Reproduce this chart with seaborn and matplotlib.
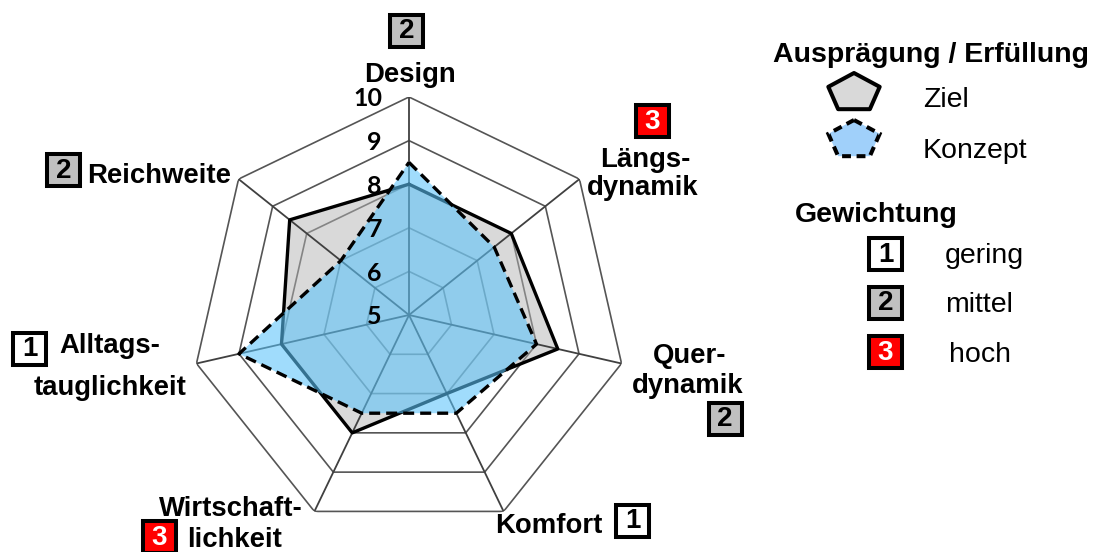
import numpy as np
import matplotlib
matplotlib.use("Agg")
import matplotlib.pyplot as plt
from matplotlib.patches import Polygon, Rectangle
import seaborn as sns

# ---- data -------------------------------------------------------------
criteria = ["Design", "Längsdynamik", "Querdynamik", "Komfort",
            "Wirtschaftlichkeit", "Alltagstauglichkeit", "Reichweite"]
axis_labels = ["Design", "Längs-\ndynamik", "Quer-\ndynamik", "Komfort",
               "Wirtschaft-\nlichkeit", "Alltags-\ntauglichkeit", "Reichweite"]
ziel = [8.0, 8.0, 8.5, 7.0, 8.0, 8.0, 8.5]
konzept = [8.5, 7.5, 8.0, 7.5, 7.5, 9.0, 7.0]
weights = [2, 3, 2, 1, 3, 1, 2]
ring_levels = [6, 7, 8, 9, 10]
tick_values = [5, 6, 7, 8, 9, 10]
series_names = ["Ziel", "Konzept"]
weight_names = ["gering", "mittel", "hoch"]
r_min, r_max = 5, 10

# ---- style ------------------------------------------------------------
sns.set_style("white")
plt.rcParams["font.family"] = ["Liberation Sans", "DejaVu Sans"]
plt.rcParams["text.color"] = "black"

W, H = 1105, 552
fig = plt.figure(figsize=(W / 100, H / 100), dpi=100)

# overlay in pixel units for labels and legend
ov = fig.add_axes([0, 0, 1, 1])
ov.set_xlim(0, W)
ov.set_ylim(H, 0)
ov.axis("off")

# radar axes: centre (409, 315), radius 218 px
cx, cy, R = 409, 315, 218
ax = fig.add_axes([(cx - R) / W, (H - cy - R) / H, 2 * R / W, 2 * R / H],
                  projection="polar")
ax.set_theta_offset(np.pi / 2)
ax.set_theta_direction(-1)
ax.patch.set_alpha(0)

n = len(criteria)
theta = np.arange(n) * 2 * np.pi / n
theta_c = np.append(theta, 2 * np.pi)

def closed(vals):
    return np.append(vals, vals[0])

grid_col = "#555555"
# heptagonal rings
for lv in ring_levels:
    ax.plot(theta_c, [lv] * (n + 1), color=grid_col, lw=1.2, zorder=1)
# spokes
for t in theta:
    ax.plot([t, t], [r_min, r_max], color="#404040", lw=1.3, zorder=2.5)

# Ziel
ax.fill(theta_c, closed(ziel), color="#b4b4b4", alpha=0.5, lw=0, zorder=2)
sns.lineplot(x=theta_c, y=closed(ziel), sort=False, estimator=None, ax=ax,
             color="black", lw=2.4, zorder=3)
# Konzept
ax.fill(theta_c, closed(konzept), color="#5cc4fa", alpha=0.58, lw=0, zorder=4)
sns.lineplot(x=theta_c, y=closed(konzept), sort=False, estimator=None, ax=ax,
             color="black", lw=2.4, linestyle=(0, (3.3, 1.8)), zorder=5)

ax.set_ylim(r_min, r_max)
ax.set_xticks([])
ax.set_yticks([])
ax.set_xlabel("")
ax.set_ylabel("")
ax.grid(False)
ax.spines["polar"].set_visible(False)

# radial tick labels along the top spoke
for v in tick_values:
    ax.annotate(str(v), xy=(0, v), xytext=(-27, -2), textcoords="offset pixels",
                ha="right", va="center", fontsize=18, fontweight="bold",
                family=["Lato", "DejaVu Sans"], color="black", zorder=6)

# ---- weighting boxes ----------------------------------------------------
box_fc = {1: "white", 2: "#c0c0c0", 3: "#ff0000"}
box_tc = {1: "black", 2: "black", 3: "white"}

def weight_box(x, y, level):
    ov.add_patch(Rectangle((x - 16.5, y - 16), 33, 32, fc=box_fc[level],
                           ec="black", lw=2.9, zorder=3))
    ov.text(x, y + 1, str(level), ha="center", va="center", fontsize=20,
            fontweight="bold", color=box_tc[level], zorder=4)

# label placement: (line centres x, line baselines y, box centre)
label_layout = [
    ([409.5], [82], (406.5, 30.5)),
    ([645, 643], [167, 195], (652, 121)),
    ([689.5, 688], [363, 393], (725, 418.5)),
    ([549], [533], (632.5, 520.5)),
    ([231, 235], [516, 547], (159.5, 537)),
    ([110, 110], [353, 395], (29.5, 348.5)),
    ([159], [183], (63.5, 170)),
]
for text, w, (xs, ys, bpos) in zip(axis_labels, weights, label_layout):
    for line, x, y in zip(text.split("\n"), xs, ys):
        ov.text(x, y, line, ha="center", va="baseline", fontsize=19.8,
                fontweight="bold")
    weight_box(bpos[0], bpos[1], w)

# ---- legend -----------------------------------------------------------------
ov.text(773, 62, "Ausprägung / Erfüllung", ha="left", va="baseline",
        fontsize=20.5, fontweight="bold")

def pentagon(x0, y0, rx=27, ry=20):
    ang = np.deg2rad(90 - 72 * np.arange(5))
    return np.column_stack([x0 + rx * np.cos(ang), y0 - ry * np.sin(ang)])

ov.add_patch(Polygon(pentagon(854, 93), closed=True, fc="#d9d9d9",
                     ec="black", lw=2.9, joinstyle="round"))
ov.add_patch(Polygon(pentagon(854, 140), closed=True, fc="#a0d0fa",
                     ec="black", lw=2.9, linestyle=(0, (2.2, 1.4))))
ov.text(923, 107, series_names[0], ha="left", va="baseline", fontsize=20.5)
ov.text(923, 158, series_names[1], ha="left", va="baseline", fontsize=20.5)

ov.text(795, 222, "Gewichtung", ha="left", va="baseline",
        fontsize=20.5, fontweight="bold")
legend_rows = [(253.5, 945, 263), (302.5, 945, 312), (352, 949, 362)]
for lvl, (name, (by, tx, ty)) in enumerate(zip(weight_names, legend_rows), start=1):
    weight_box(885.5, by, lvl)
    ov.text(tx, ty, name, ha="left", va="baseline", fontsize=20.5)

fig.savefig("out.png", dpi=100)
